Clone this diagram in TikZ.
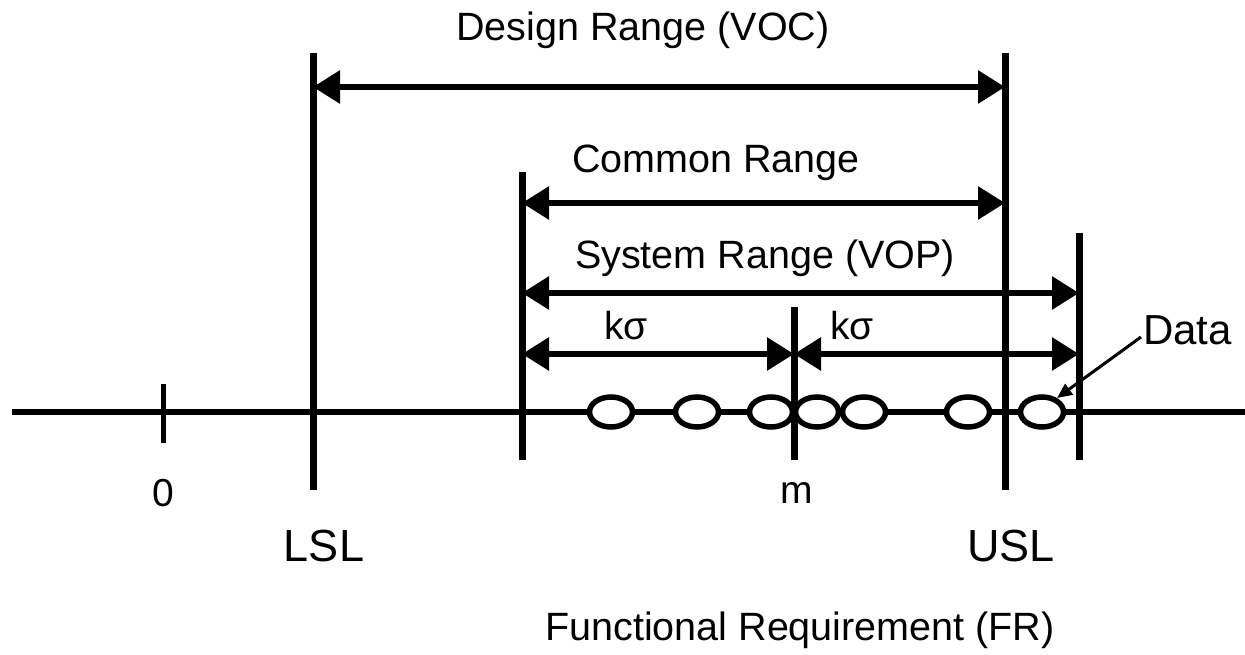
\documentclass[tikz,border=0pt]{standalone}
\usepackage{fontspec}
\setmainfont{Liberation Sans}
\usetikzlibrary{arrows.meta}
\begin{document}
\begin{tikzpicture}[x=1pt,y=-1pt,
  vline/.style={line width=7pt},
  tick/.style={line width=5pt},
  axis/.style={line width=5.5pt},
  dim/.style={line width=6pt,{Triangle[length=27pt,width=32pt]}-{Triangle[length=27pt,width=32pt]}},
  lbl/.style={inner sep=0pt,font=\fontsize{39.5}{42}\selectfont},
  big/.style={inner sep=0pt,font=\fontsize{45}{48}\selectfont},
  small/.style={inner sep=0pt,font=\fontsize{39}{42}\selectfont},
  leader/.style={line width=3pt,-{Triangle[length=15pt,width=13pt]}}]
\useasboundingbox (0,0) rectangle (1245,655);
% axis
\coordinate (axL) at (12,412);
\coordinate (axR) at (1245,412);
\draw[axis] (axL) -- (axR);
% vertical lines
\coordinate (z0t) at (163,384); \coordinate (z0b) at (163,443);
\coordinate (lslT) at (313,53); \coordinate (lslB) at (313,490);
\coordinate (uslT) at (1005,53); \coordinate (uslB) at (1005,490);
\coordinate (cT) at (522,172); \coordinate (cB) at (522,460);
\coordinate (rT) at (1079,233); \coordinate (rB) at (1079,460);
\coordinate (mT) at (794,307); \coordinate (mB) at (794,460);
\draw[tick] (z0t) -- (z0b);
\draw[vline] (lslT) -- (lslB);
\draw[vline] (uslT) -- (uslB);
\draw[vline] (cT) -- (cB);
\draw[vline] (rT) -- (rB);
% data ellipses
\foreach \i/\xx in {1/611,2/697,3/771,4/817,5/864,6/968,7/1042}{
  \draw[line width=5.5pt,fill=white] (\xx,412) ellipse [x radius=21.5, y radius=15];
  \coordinate (d\i) at (\xx,412);
}
\draw[vline] (mT) -- (mB);
% dimension arrows
\coordinate (a1) at (313,87); \coordinate (b1) at (1005,87);
\coordinate (a2) at (522,203); \coordinate (b2) at (1005,203);
\coordinate (a3) at (522,293); \coordinate (b3) at (1079,293);
\coordinate (a4) at (522,354); \coordinate (b4) at (794,354);
\coordinate (a5) at (794,354); \coordinate (b5) at (1079,354);
\draw[dim] (a1) -- (b1);
\draw[dim] (a2) -- (b2);
\draw[dim] (a3) -- (b3);
\draw[dim] (a4) -- (b4);
\draw[dim] (a5) -- (b5);
% labels
\node[lbl] (tDesign) at (643,30) {Design Range (VOC)};
\node[lbl] (tCommon) at (716,163) {Common Range};
\node[lbl] (tSystem) at (765,258) {System Range (VOP)};
\node[small] (tk1) at (626,326) {kσ};
\node[small] (tk2) at (852,326) {kσ};
\node[small,anchor=west,font=\fontsize{42}{45}\selectfont] (tData) at (1143,330) {Data};
\node[small] (t0) at (163,493) {0};
\node[small] (tm) at (797,493) {m};
\node[big] (tLSL) at (324,546) {LSL};
\node[big] (tUSL) at (1011,546) {USL};
\node[lbl] (tFR) at (800,630) {Functional Requirement (FR)};
% data leader
\coordinate (dtip) at (1057,398);
\draw[leader] (tData.west) ++(-2,7) coordinate (ls) -- (dtip);
\end{tikzpicture}
\end{document}
